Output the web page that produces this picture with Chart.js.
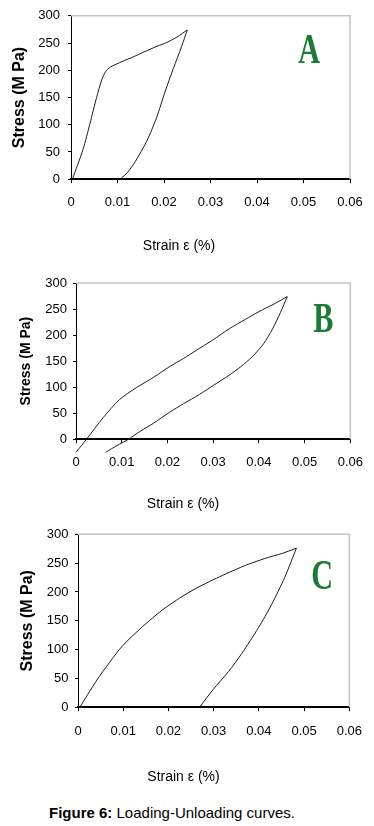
<!DOCTYPE html>
<html>
<head>
<meta charset="utf-8">
<script src="https://cdn.jsdelivr.net/npm/chart.js@4/dist/chart.umd.min.js"></script>
<style>
  html, body { margin: 0; padding: 0; background: #fff; }
  body { width: 374px; height: 826px; position: relative; overflow: hidden; }
  .panel { position: absolute; left: 0; width: 374px; }
  #caption {
    position: absolute; left: 49px; top: 804px;
    font: 15px "Liberation Sans", Arial, sans-serif; color: #000; white-space: nowrap;
  }
</style>
</head>
<body>
<div class="panel" style="top:0px;height:262px"><canvas id="chartA" width="374" height="262"></canvas></div>
<div class="panel" style="top:262px;height:258px"><canvas id="chartB" width="374" height="258"></canvas></div>
<div class="panel" style="top:520px;height:275px"><canvas id="chartC" width="374" height="275"></canvas></div>
<div id="caption"><b>Figure 6:</b> Loading-Unloading curves.</div>

<script>
// tick labels
const xTickLabels = ['0', '0.01', '0.02', '0.03', '0.04', '0.05', '0.06'];
const yTickLabels = ['0', '50', '100', '150', '200', '250', '300'];

// A - strain / stress (MPa)
const aLoadStrain   = [0.0003, 0.0026, 0.0041, 0.0055, 0.0066, 0.0074, 0.0085, 0.011, 0.0135, 0.0155, 0.0185, 0.0206, 0.0228, 0.025];
const aLoadStress   = [0, 55, 103, 150, 182, 197, 206, 216, 225, 233, 244, 251, 261, 274];
const aUnloadStrain = [0.025, 0.0238, 0.022, 0.0202, 0.0184, 0.0163, 0.0138, 0.0122, 0.0106];
const aUnloadStress = [274, 244, 203, 160, 113, 70, 32, 13, 0];

// B
const bLoadStrain   = [0, 0.0023, 0.006, 0.0095, 0.0132, 0.017, 0.0204, 0.0235, 0.0262, 0.030, 0.0335, 0.037, 0.040, 0.0436, 0.0462];
const bLoadStress   = [-25, 0, 42, 76, 99, 119, 139, 155, 170, 191, 212, 230, 245, 261, 274];
const bUnloadStrain = [0.0462, 0.0447, 0.043, 0.041, 0.0385, 0.036, 0.0335, 0.030, 0.027, 0.0235, 0.0205, 0.017, 0.014, 0.0115, 0.009, 0.0065];
const bUnloadStress = [274, 243, 212, 183, 158, 139, 123, 103, 86, 68, 52, 31, 15, 0, -12, -25];

// C
const cLoadStrain   = [0.0004, 0.004, 0.007, 0.0099, 0.0143, 0.0187, 0.023, 0.027, 0.0326, 0.037, 0.0413, 0.0452, 0.0483];
const cLoadStress   = [0, 45, 78, 107, 140, 169, 192, 210, 231, 246, 258, 267, 276];
const cUnloadStrain = [0.0483, 0.0457, 0.0428, 0.0399, 0.0362, 0.0333, 0.0298, 0.0269];
const cUnloadStress = [276, 225, 178, 138, 93, 62, 30, 0];

const tickFont = { family: "'Liberation Sans Narrow', 'Arial Narrow', 'Liberation Sans', Arial", size: 13 };

function pts(xs, ys) {
  return xs.map((x, i) => ({ x, y: ys[i] }));
}

// grey top/right frame + big panel letter
const frameAndLetter = {
  id: 'frameAndLetter',
  beforeDatasetsDraw(chart, args, opts) {
    const { ctx, chartArea: a } = chart;
    ctx.save();
    ctx.strokeStyle = '#c4c4c4';
    ctx.lineWidth = 1.5;
    ctx.beginPath();
    ctx.moveTo(a.left, a.top);
    ctx.lineTo(a.right, a.top);
    ctx.lineTo(a.right, a.bottom);
    ctx.stroke();

    const x = chart.scales.x.getPixelForValue(opts.at[0]);
    const y = chart.scales.y.getPixelForValue(opts.at[1]);
    ctx.translate(x, y);
    ctx.scale(0.72, 1);
    ctx.fillStyle = '#1d7a36';
    ctx.font = "bold 42px 'Liberation Serif', 'Times New Roman', serif";
    ctx.textAlign = 'center';
    ctx.textBaseline = 'middle';
    ctx.fillText(opts.letter, 0, 0);
    ctx.restore();
  }
};

function makeChart(canvasId, load, unload, lay) {
  return new Chart(document.getElementById(canvasId).getContext('2d'), {
    type: 'line',
    data: {
      datasets: [
        { label: 'Loading', data: load, borderColor: '#1a1a1a', borderWidth: 1, pointRadius: 0, tension: 0.25, clip: false },
        { label: 'Unloading', data: unload, borderColor: '#1a1a1a', borderWidth: 1, pointRadius: 0, tension: 0.25, clip: false }
      ]
    },
    options: {
      responsive: false,
      animation: false,
      layout: { padding: lay.padding },
      scales: {
        x: {
          type: 'linear',
          min: 0, max: 0.06,
          grid: { drawOnChartArea: false, drawTicks: true, tickLength: 4, tickColor: '#000' },
          border: { color: '#000', width: 2 },
          ticks: {
            stepSize: 0.01, padding: lay.xPad, color: '#000', font: tickFont, maxRotation: 0,
            callback: (v, i) => xTickLabels[i]
          },
          afterFit: s => { s.height = lay.xHeight; }
        },
        y: {
          min: 0, max: 300,
          grid: { drawOnChartArea: false, drawTicks: true, tickLength: 3, tickColor: '#000' },
          border: { color: '#000', width: 1 },
          ticks: {
            stepSize: 50, padding: lay.yPad, color: '#000', font: tickFont,
            callback: (v, i) => yTickLabels[i]
          },
          title: {
            display: true, text: 'Stress (M Pa)', color: '#000',
            font: { family: "'Liberation Sans', Arial", size: lay.yTitleSize, weight: 'bold' },
            padding: { top: lay.yTitlePad, bottom: 0 }
          },
          afterFit: s => { s.width = lay.yWidth; }
        }
      },
      plugins: {
        legend: { display: false },
        tooltip: { enabled: false },
        title: {
          display: true, position: 'bottom', text: 'Strain ε (%)', color: '#000',
          font: { family: "'Liberation Sans Narrow', 'Arial Narrow', 'Liberation Sans', Arial", size: 14, weight: 'normal' },
          padding: { top: 0, bottom: 0 }
        },
        frameAndLetter: { letter: lay.letter, at: lay.letterAt }
      }
    },
    plugins: [frameAndLetter]
  });
}

makeChart('chartA', pts(aLoadStrain, aLoadStress), pts(aUnloadStrain, aUnloadStress), {
  padding: { left: 8, right: 24, top: 15, bottom: 7 },
  xHeight: 59, yWidth: 63, xPad: 11, yPad: 8, yTitleSize: 16, yTitlePad: 2,
  letter: 'A', letterAt: [0.0512, 234]
});

makeChart('chartB', pts(bLoadStrain, bLoadStress), pts(bUnloadStrain, bUnloadStress), {
  padding: { left: 14, right: 22, top: 21, bottom: 7 },
  xHeight: 57, yWidth: 62, xPad: 11, yPad: 6, yTitleSize: 14, yTitlePad: 4,
  letter: 'B', letterAt: [0.0541, 227]
});

makeChart('chartC', pts(cLoadStrain, cLoadStress), pts(cUnloadStrain, cUnloadStress), {
  padding: { left: 15, right: 22, top: 13, bottom: 9 },
  xHeight: 62, yWidth: 63, xPad: 12, yPad: 6.5, yTitleSize: 16, yTitlePad: 2.5,
  letter: 'C', letterAt: [0.054, 224]
});
</script>
</body>
</html>
